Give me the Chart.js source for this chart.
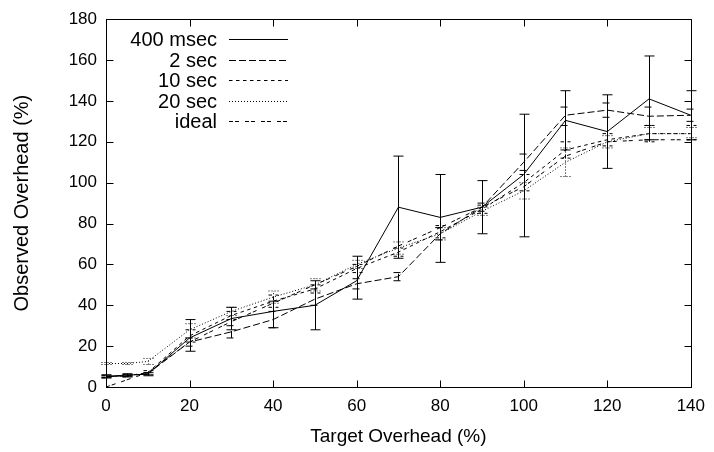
<!DOCTYPE html>
<html>
<head>
<meta charset="utf-8">
<script src="https://cdn.jsdelivr.net/npm/chart.js@4/dist/chart.umd.min.js"></script>
<style>
  html, body { margin: 0; padding: 0; background: #fff; }
  canvas { display: block; }
</style>
</head>
<body>
<canvas id="c" width="714" height="452"></canvas>
<script>
// Target overhead (%) at which each run was measured
const targets = [0, 5, 10, 20, 30, 40, 50, 60, 70, 80, 90, 100, 110, 120, 130, 140];

// Observed overhead (%) per sampling interval
const obs400ms = [5.3, 5.8, 6.3, 24, 33.5, 37, 40, 52, 88, 83, 88, 104, 130.5, 125, 141, 133];
const obs2s    = [5, 5.5, 6.5, 22, 27, 33, 43, 50.5, 54, 75, 88, 110, 133, 135.5, 132.5, 133];
const obs10s   = [5, 5.5, 7, 25, 35, 42, 48, 58, 66, 76, 87, 100, 116, 121, 124, 124];
const obs20s   = [11.5, 11.5, 12.5, 28, 37, 44, 50, 60, 68, 75, 86, 96, 110, 120, 124, 124];
const ideal    = [0, 3.5, 7, 22, 32, 41, 50, 59, 69, 78, 88, 98, 113, 120, 121, 121];

// Spread of the observations (min / max)
const lo400ms = [4.5, 5, 5.5, 17.5, 28, 29, 28, 43, 63, 61, 75, 73.5, 116, 107, 121, 121];
const hi400ms = [6, 6.5, 7, 33, 39, 42, 52, 64, 113, 104, 101, 133.5, 145, 143, 162, 145];
const lo2s    = [4.5, 5, 6, 20, 24, 29, 40, 48, 52, 72, 86, 106, 128, 132, 128, 130];
const hi2s    = [5.5, 6, 7, 24, 30, 37, 48, 53, 56, 78, 90, 114, 137, 139, 137, 136];
const lo10s   = [4.5, 5, 6, 22, 33, 39, 46, 56, 64, 73, 85, 96, 112, 118, 120, 121];
const hi10s   = [5.5, 6, 8, 28, 37, 45, 50, 60, 68, 79, 89, 104, 120, 124, 128, 128];
const lo20s   = [11, 11, 11, 24, 35, 41, 47, 58, 65, 72, 84, 92, 103, 117, 121, 122];
const hi20s   = [12, 12, 14, 31, 39, 47, 53, 62, 71, 78, 88, 100, 117, 123, 127, 127];

const xTicks = [0, 20, 40, 60, 80, 100, 120, 140];
const yTicks = [0, 20, 40, 60, 80, 100, 120, 140, 160, 180];

const FONT = "'Liberation Sans', Arial, Helvetica, sans-serif";

function pts(ys) { return targets.map((x, i) => ({ x: x, y: ys[i] })); }

const series = [
  { label: '400 msec', data: obs400ms, lo: lo400ms, hi: hi400ms, dash: [] },
  { label: '2 sec',    data: obs2s,    lo: lo2s,    hi: hi2s,    dash: [7, 3] },
  { label: '10 sec',   data: obs10s,   lo: lo10s,   hi: hi10s,   dash: [3.5, 3.5] },
  { label: '20 sec',   data: obs20s,   lo: lo20s,   hi: hi20s,   dash: [1, 2] },
  { label: 'ideal',    data: ideal,    lo: null,    hi: null,    dash: [4, 2, 4, 6] }
];

// Vertical min/max bars with caps, placed through the chart scales
const errorBars = {
  id: 'errorBars',
  afterDatasetsDraw(chart) {
    const { ctx, scales: { x, y } } = chart;
    ctx.save();
    ctx.strokeStyle = '#000';
    ctx.lineWidth = 1;
    chart.data.datasets.forEach(ds => {
      if (!ds.lo) return;
      ctx.setLineDash(ds.borderDash || []);
      targets.forEach((t, i) => {
        const px = Math.round(x.getPixelForValue(t)) + 0.5;
        const yl = y.getPixelForValue(ds.lo[i]);
        const yh = y.getPixelForValue(ds.hi[i]);
        ctx.beginPath();
        ctx.moveTo(px, yl); ctx.lineTo(px, yh);
        ctx.moveTo(px - 5, yl); ctx.lineTo(px + 5, yl);
        ctx.moveTo(px - 5, yh); ctx.lineTo(px + 5, yh);
        ctx.stroke();
      });
    });
    ctx.restore();
  }
};

// Plot frame with inward ticks on all four sides, plus the key
const frame = {
  id: 'frame',
  afterDraw(chart) {
    const { ctx, chartArea: a, scales: { x, y } } = chart;
    ctx.save();
    ctx.strokeStyle = '#000';
    ctx.lineWidth = 1;
    ctx.setLineDash([]);
    const L = Math.round(a.left) + 0.5, R = Math.round(a.right) + 0.5;
    const T = Math.round(a.top) + 0.5, B = Math.round(a.bottom) + 0.5;
    ctx.strokeRect(L, T, R - L, B - T);
    const tl = 7;
    ctx.beginPath();
    xTicks.forEach(v => {
      const px = Math.round(x.getPixelForValue(v)) + 0.5;
      ctx.moveTo(px, B); ctx.lineTo(px, B - tl);
      ctx.moveTo(px, T); ctx.lineTo(px, T + tl);
    });
    yTicks.forEach(v => {
      const py = Math.round(y.getPixelForValue(v)) + 0.5;
      ctx.moveTo(L, py); ctx.lineTo(L + tl, py);
      ctx.moveTo(R, py); ctx.lineTo(R - tl, py);
    });
    ctx.stroke();

    // key
    ctx.font = '20px ' + FONT;
    ctx.fillStyle = '#000';
    ctx.textAlign = 'right';
    ctx.textBaseline = 'middle';
    chart.data.datasets.forEach((ds, i) => {
      const ky = Math.round(a.top + 20 + i * 20.5) + 0.5;
      ctx.fillText(ds.label, a.left + 111, ky + 1);
      ctx.setLineDash(ds.borderDash || []);
      ctx.beginPath();
      ctx.moveTo(a.left + 123, ky);
      ctx.lineTo(a.left + 182, ky);
      ctx.stroke();
    });
    ctx.restore();
  }
};

new Chart(document.getElementById('c'), {
  type: 'line',
  data: {
    datasets: series.map(s => ({
      label: s.label,
      data: pts(s.data),
      lo: s.lo,
      hi: s.hi,
      borderColor: '#000',
      borderWidth: 1,
      borderDash: s.dash,
      pointRadius: 0,
      tension: 0,
      fill: false
    }))
  },
  options: {
    responsive: false,
    animation: false,
    devicePixelRatio: 1,
    layout: { padding: { top: 16, right: 23, left: 0, bottom: 0 } },
    plugins: { legend: { display: false }, tooltip: { enabled: false } },
    scales: {
      x: {
        type: 'linear',
        min: 0, max: 140,
        afterBuildTicks: s => { s.ticks = xTicks.map(v => ({ value: v })); },
        afterFit: s => { s.height = 65; },
        grid: { display: false, drawTicks: false },
        border: { display: false },
        ticks: { color: '#000', font: { family: FONT, size: 17 }, padding: 9, maxRotation: 0 },
        title: { display: true, text: 'Target Overhead (%)', color: '#000',
                 font: { family: FONT, size: 19 }, padding: { top: 0, bottom: 4 } }
      },
      y: {
        type: 'linear',
        min: 0, max: 180,
        afterBuildTicks: s => { s.ticks = yTicks.map(v => ({ value: v })); },
        afterFit: s => { s.width = 106; },
        grid: { display: false, drawTicks: false },
        border: { display: false },
        ticks: { color: '#000', font: { family: FONT, size: 17 }, padding: 9 },
        title: { display: true, text: 'Observed Overhead (%)', color: '#000',
                 font: { family: FONT, size: 20 }, padding: { top: 10, bottom: 0 } }
      }
    }
  },
  plugins: [errorBars, frame]
});
</script>
</body>
</html>
